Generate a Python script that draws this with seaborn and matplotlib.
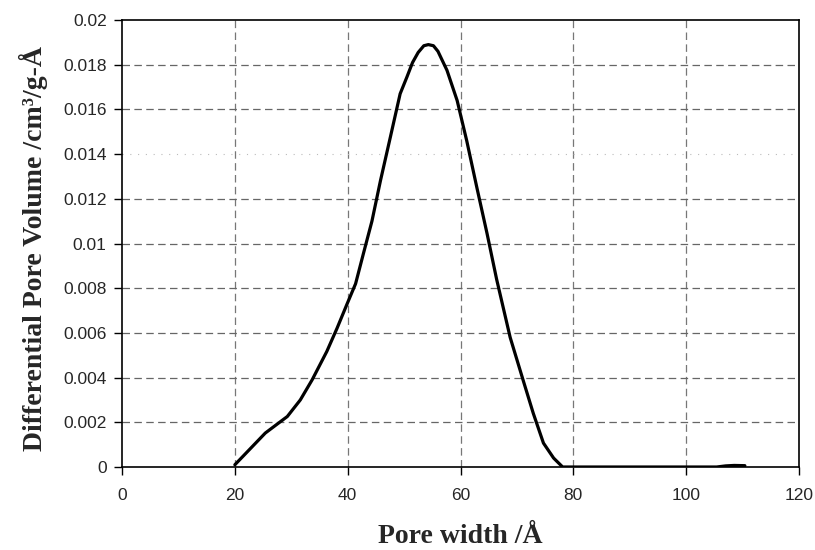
import pandas as pd
import matplotlib.pyplot as plt
import seaborn as sns

# Pore size distribution
pore_width = [20, 25.4, 29.3, 31.6, 33.7, 36.3, 38.1, 39.9, 41.4, 42.8, 44.3, 45.8,
              47.6, 49.3, 50.5, 51.5, 52.5, 53.5, 54.3, 55.2, 56.0, 57.6, 59.4, 61.1,
              62.9, 64.7, 66.4, 68.8, 71.2, 72.9, 74.7, 76.5, 78.1, 90, 105.4, 107,
              108.5, 110.4]
pore_volume = [0.0001, 0.00152, 0.00226, 0.0030, 0.0039, 0.00517, 0.0062, 0.0073,
               0.0082, 0.00956, 0.0110, 0.0128, 0.0148, 0.0167, 0.01745, 0.0181,
               0.01855, 0.01885, 0.0189, 0.01885, 0.0186, 0.01775, 0.0164, 0.0146,
               0.0125, 0.01045, 0.0084, 0.0058, 0.0038, 0.0024, 0.00107, 0.0004,
               0.0, 0.0, 0.0, 0.00005, 0.00007, 0.00006]

x_ticks = [0, 20, 40, 60, 80, 100, 120]
y_ticks = [0, 0.002, 0.004, 0.006, 0.008, 0.01, 0.012, 0.014, 0.016, 0.018, 0.02]
y_labels = ['0', '0.002', '0.004', '0.006', '0.008', '0.01', '0.012', '0.014',
            '0.016', '0.018', '0.02']

data = pd.DataFrame({'Pore width': pore_width, 'Volume': pore_volume})

sns.set_style('white')
plt.rcParams['font.family'] = ['Liberation Sans', 'DejaVu Sans']

fig = plt.figure(figsize=(8.15, 5.5), dpi=100)
ax = fig.add_axes([0.1497, 0.1509, 0.8307, 0.8127])

# grid lines (the 0.014 one is a faint dotted line in the original)
for gx in x_ticks[1:-1]:
    ax.axvline(gx, color='#777777', lw=0.9, ls=(0, (6, 3.5)), zorder=1)
for gy in y_ticks[1:-1]:
    if gy == 0.014:
        ax.axhline(gy, color='#bbbbbb', lw=0.8, ls=(0, (1, 6)), zorder=1)
    else:
        ax.axhline(gy, color='#666666', lw=0.9, ls=(0, (6, 3.5)), zorder=1)

sns.lineplot(data=data, x='Pore width', y='Volume', color='black', lw=2.3,
             ax=ax, zorder=3)

ax.set_xlim(0, 120)
ax.set_ylim(0, 0.02)
ax.set_xticks(x_ticks)
ax.set_yticks(y_ticks)
ax.set_yticklabels(y_labels)
ax.tick_params(direction='out', length=6, width=1, color='black',
               labelsize=12.5, bottom=True, left=True)
ax.tick_params(axis='x', pad=9)
ax.tick_params(axis='y', pad=5)
for s in ax.spines.values():
    s.set_color('black')
    s.set_linewidth(1.2)

ax.set_xlabel('Pore width /Å', family=['Liberation Serif'], fontweight='bold',
              fontsize=20)
ax.set_ylabel('Differential Pore Volume /cm³/g-Å', family=['Liberation Serif'],
              fontweight='bold', fontsize=20)
ax.xaxis.set_label_coords(0.5, -0.128)
ax.yaxis.set_label_coords(-0.11, 0.489)

fig.savefig('out.png', dpi=100)
